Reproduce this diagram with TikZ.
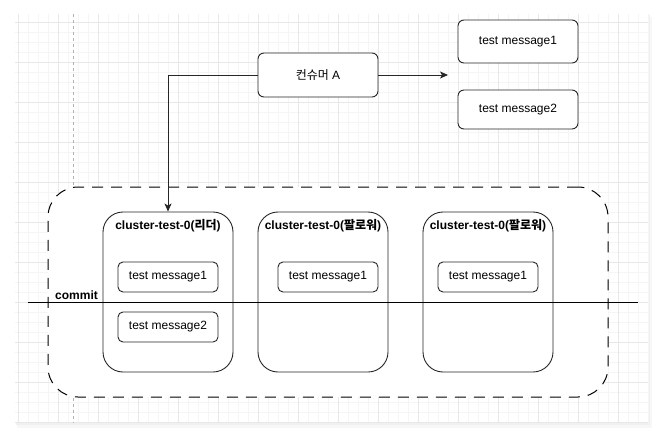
\documentclass[tikz,border=0pt]{standalone}
\usepackage{fontspec}
\setmainfont{Liberation Sans}
\newfontfamily\kr{Noto Sans CJK KR}
\usetikzlibrary{arrows.meta,positioning}

\tikzset{
  box/.style={draw=black!85, line width=0.9pt, fill=white, inner sep=0pt},
  msgbox/.style={box, rounded corners=5pt, minimum width=100pt, minimum height=30pt},
  topbox/.style={box, rounded corners=6pt, minimum width=120pt},
  clusterbox/.style={box, rounded corners=20pt, minimum width=130pt, minimum height=160pt},
  titletxt/.style={font=\fontsize{12}{14}\selectfont\bfseries, inner sep=0pt},
  gridminor/.style={line width=0.5pt, black!4},
  gridmajor/.style={line width=0.6pt, black!9},
  link/.style={line width=0.9pt, black!85, -{Stealth[length=8pt,width=7pt,inset=2pt]}}
}

\begin{document}
\begin{tikzpicture}[x=1pt, y=-1pt, every node/.style={font=\fontsize{12}{14}\selectfont}]
        \useasboundingbox (0,0) rectangle (663,441);
        % Draw canvas with shadow and grid
        \fill[black!3] (17,17) rectangle (652,428);
        \fill[black!6] (16,15) rectangle (650,425);
        \fill[white] (15,14) rectangle (648,423);
        \foreach \x in {18,28,...,648} \draw[gridminor] (\x,14) -- (\x,423);
        \foreach \y in {22,32,...,422} \draw[gridminor] (15,\y) -- (648,\y);
        \foreach \x in {18,58,...,618} \draw[gridmajor] (\x,14) -- (\x,423);
        \foreach \y in {22,62,...,422} \draw[gridmajor] (15,\y) -- (648,\y);
        \draw[black!30, dashed, line width=0.6pt] (73,14) -- (73,423);

        % Draw consumer and messages
        \node[topbox, minimum height=44pt] (consumer) at (318,75) {{\kr 컨슈머} A};
        \node[topbox, minimum height=43pt] (msgA) at (518,41.5) {test message1};
        \node[topbox, minimum height=39pt] (msgB) at (518,109.5) {test message2};

        % Draw cluster
        \node[draw=black, fill=white, dash pattern=on 11pt off 8pt, line width=1pt, rounded corners=30pt,
              minimum width=560pt, minimum height=210pt, inner sep=0pt] (cluster) at (328,292) {};
        \node[clusterbox] (leader) at (168,292) {};
        \node[clusterbox] (followerA) at (323,292) {};
        \node[clusterbox] (followerB) at (488,292) {};
        \node[titletxt] (leadertitle) at (168,226) {cluster-test-0({\kr 리더})};
        \node[titletxt] (followerAtitle) at (323,226) {cluster-test-0({\kr 팔로워})};
        \node[titletxt] (followerBtitle) at (488,226) {cluster-test-0({\kr 팔로워})};
        \node[msgbox] (leadermsgA) at (168,277) {test message1};
        \node[msgbox] (leadermsgB) at (168,327) {test message2};
        \node[msgbox] (followerAmsg) at (328,277) {test message1};
        \node[msgbox] (followerBmsg) at (488,277) {test message1};

        % Draw commit line
        \coordinate (commitL) at (28,302);
        \coordinate (commitR) at (638,302);
        \draw[line width=0.9pt] (commitL) -- (commitR);
        \node[titletxt, anchor=south west] (commit) at (55,300) {commit};

        % Draw arrows
        \coordinate (fetch) at (448,75);
        \draw[link] (consumer.east) -- (fetch);
        \draw[link] (consumer.west) -| (leader.north);
    \end{tikzpicture}
\end{document}
